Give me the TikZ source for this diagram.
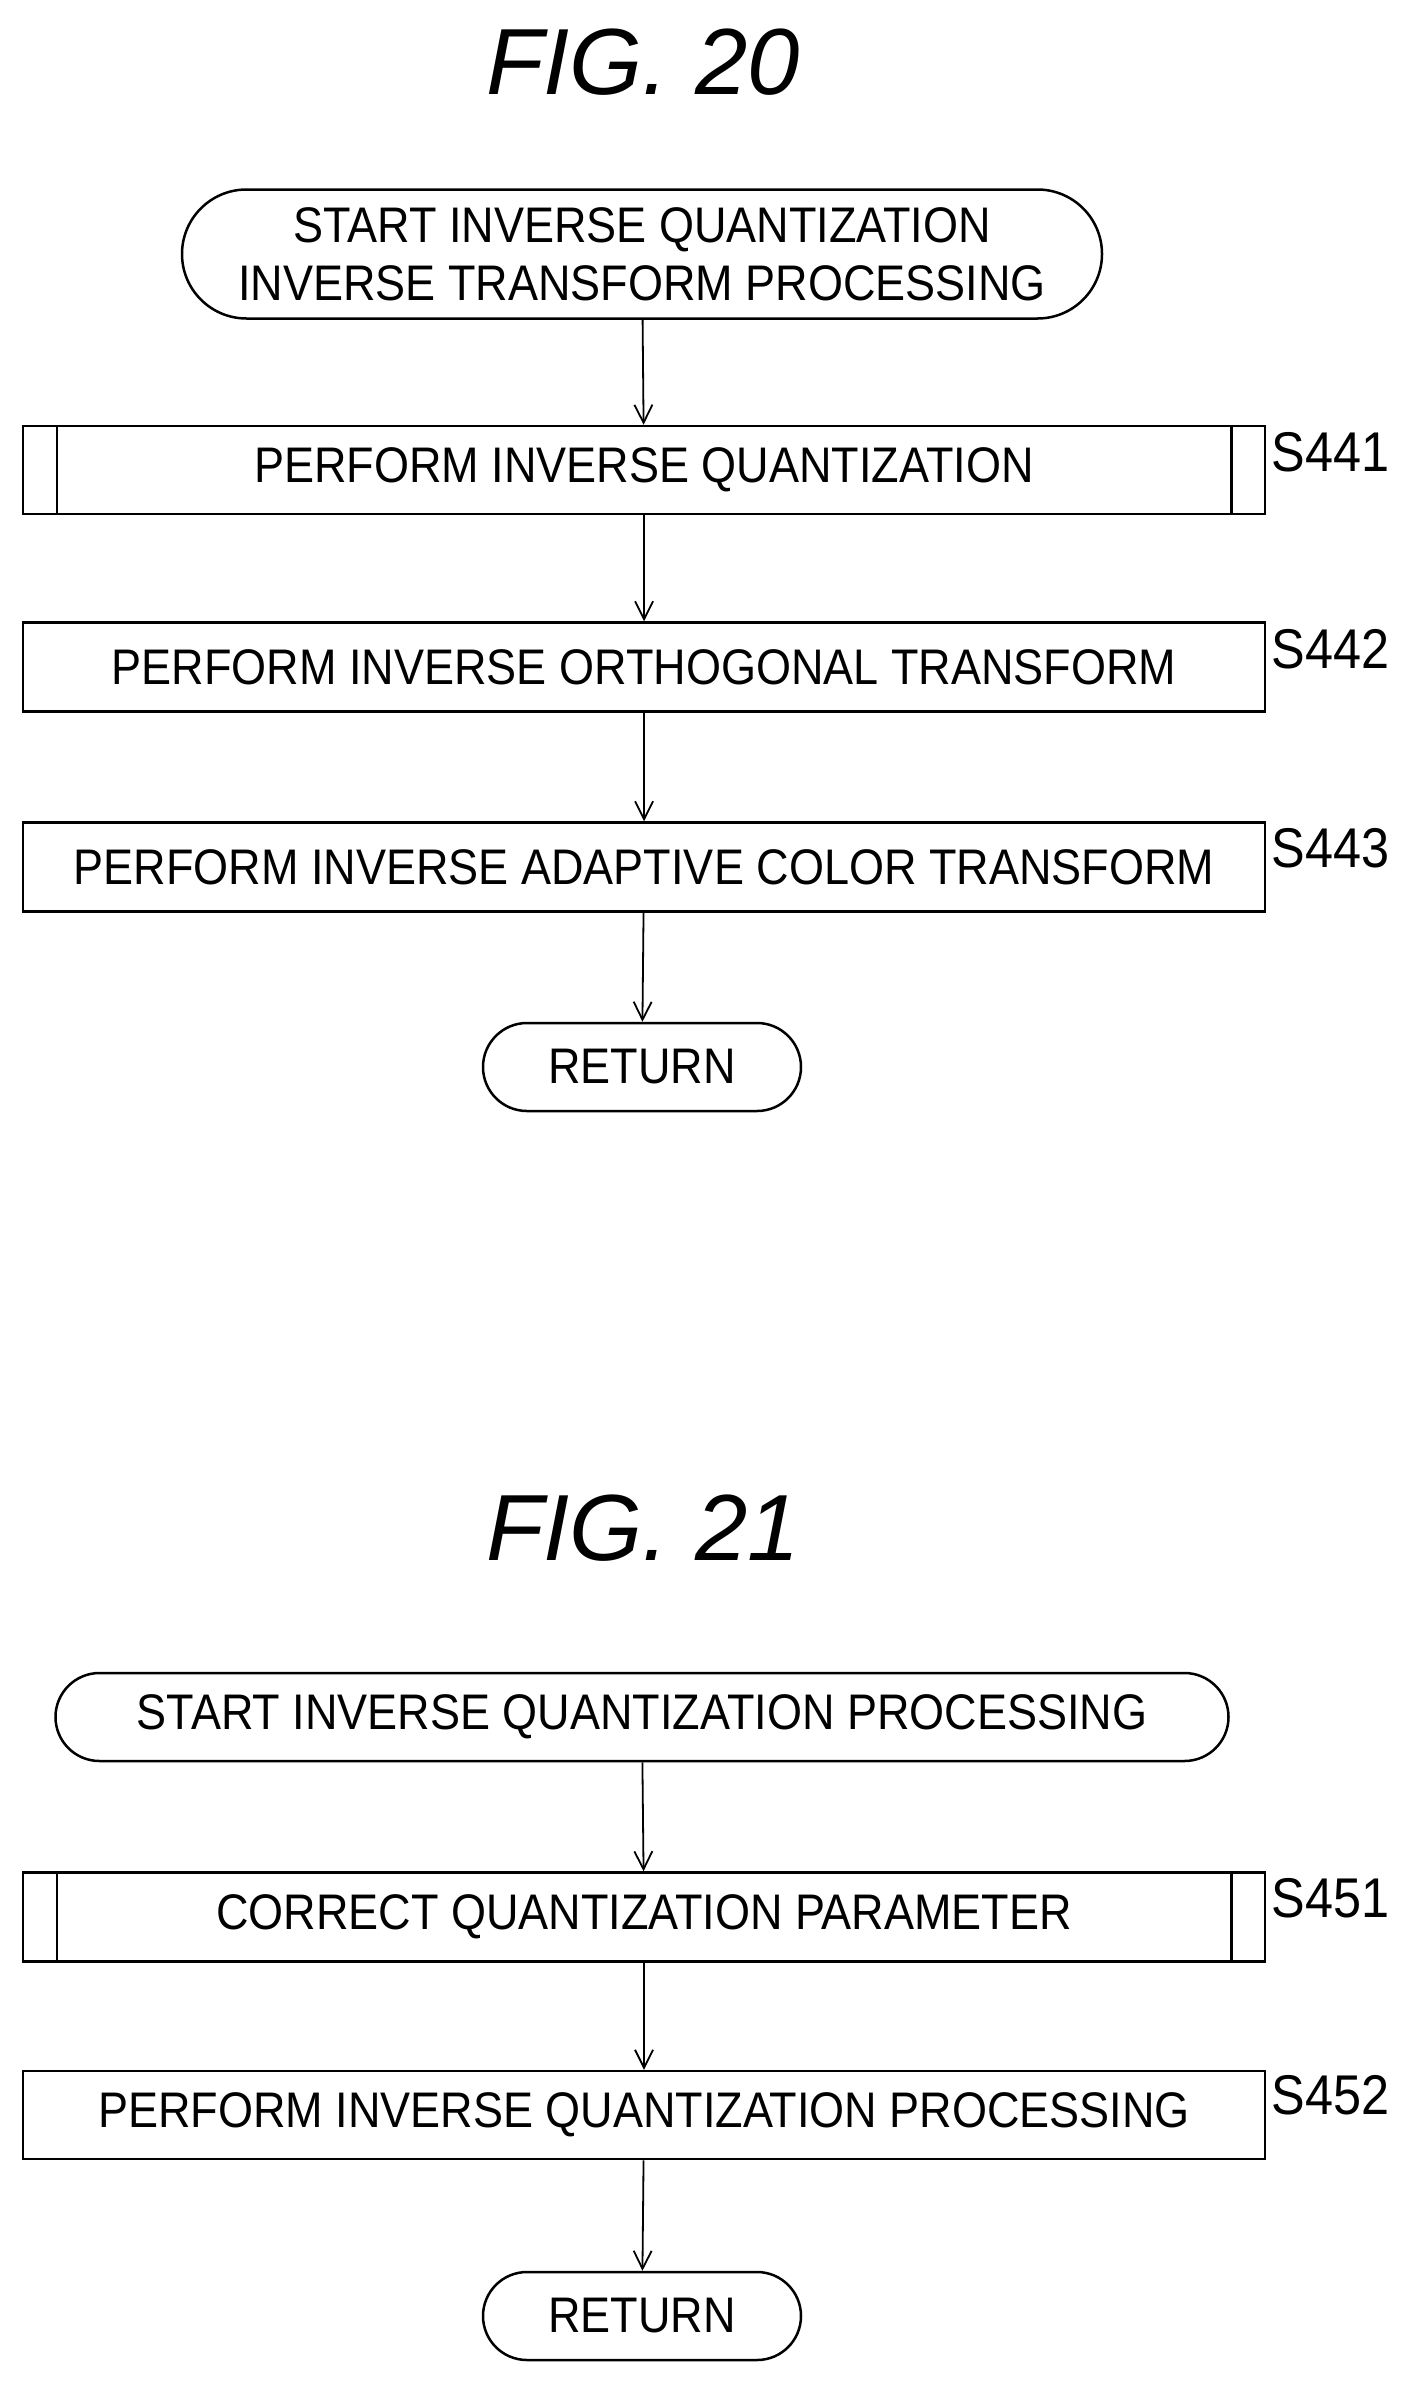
\documentclass[tikz,border=0pt]{standalone}
\usepackage{fontspec}
\setmainfont{Liberation Sans}
\newfontfamily\nar[FakeStretch=0.9]{Liberation Sans}
\usetikzlibrary{arrows.meta,shapes.misc}
\begin{document}
\begin{tikzpicture}[x=1pt,y=-1pt,
  box/.style={draw,line width=2.5pt,inner sep=0pt,font=\nar\fontsize{50}{58}\selectfont},
  term/.style={box,rounded rectangle},
  lab/.style={font=\nar\fontsize{56}{60}\selectfont,anchor=west},
  ttl/.style={font=\itshape\fontsize{94}{100}\selectfont},
  arr/.style={draw,line width=1.8pt,-{Straight Barb[length=18pt,width=18pt,line width=1.8pt]}}]
\useasboundingbox (0,0) rectangle (1414,2388);
\node[ttl] (t20) at (643,62) {FIG. 20};
\node[term,minimum width=920pt,minimum height=129pt,align=center] (a0) at (642,254) {START INVERSE QUANTIZATION\\INVERSE TRANSFORM PROCESSING};
\node[box,minimum width=1242pt,minimum height=88pt] (a1) at (644,470) {PERFORM INVERSE QUANTIZATION};
\draw[line width=2.5pt] ([xshift=35pt]a1.north west) -- ([xshift=35pt]a1.south west)
  ([xshift=-35pt]a1.north east) -- ([xshift=-35pt]a1.south east);
\node[box,minimum width=1242pt,minimum height=89pt] (a2) at (644,667) {PERFORM INVERSE ORTHOGONAL TRANSFORM};
\node[box,minimum width=1242pt,minimum height=89pt] (a3) at (644,867) {PERFORM INVERSE ADAPTIVE COLOR TRANSFORM};
\node[term,minimum width=318pt,minimum height=88pt] (a4) at (642,1067) {RETURN};
\node[lab] (l1) at (1268,452) {S441};
\node[lab] (l2) at (1268,649) {S442};
\node[lab] (l3) at (1268,848) {S443};
\draw[arr] (a0) -- (a1);
\draw[arr] (a1) -- (a2);
\draw[arr] (a2) -- (a3);
\draw[arr] (a3) -- (a4);

\node[ttl] (t21) at (643,1528) {FIG. 21};
\node[term,minimum width=1173pt,minimum height=88pt] (b0) at (642,1717) {START INVERSE QUANTIZATION PROCESSING};
\node[box,minimum width=1242pt,minimum height=89pt] (b1) at (644,1917) {CORRECT QUANTIZATION PARAMETER};
\draw[line width=2.5pt] ([xshift=35pt]b1.north west) -- ([xshift=35pt]b1.south west)
  ([xshift=-35pt]b1.north east) -- ([xshift=-35pt]b1.south east);
\node[box,minimum width=1242pt,minimum height=88pt] (b2) at (644,2115) {PERFORM INVERSE QUANTIZATION PROCESSING};
\node[term,minimum width=318pt,minimum height=88pt] (b3) at (642,2316) {RETURN};
\node[lab] (m1) at (1268,1898) {S451};
\node[lab] (m2) at (1268,2095) {S452};
\draw[arr] (b0) -- (b1);
\draw[arr] (b1) -- (b2);
\draw[arr] (b2) -- (b3);
\end{tikzpicture}
\end{document}
